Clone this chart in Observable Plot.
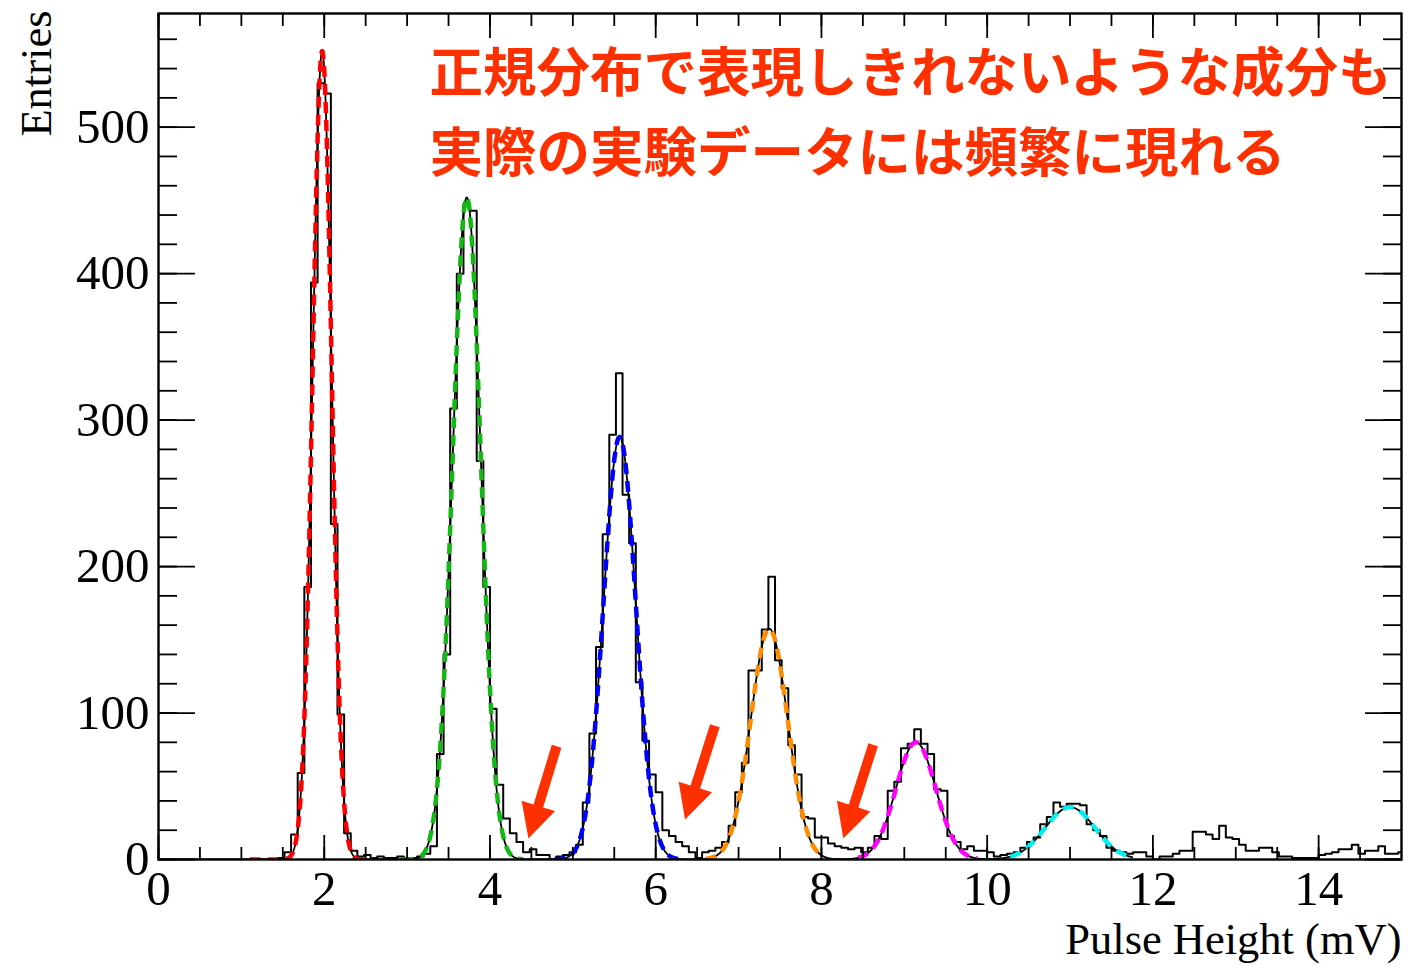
<!DOCTYPE html>
<html><head><meta charset="utf-8">
<script src="https://cdn.jsdelivr.net/npm/d3@7"></script>
<script src="https://cdn.jsdelivr.net/npm/@observablehq/plot@0.6"></script>
<style>html,body{margin:0;padding:0;background:#fff}#chart{width:1408px;height:966px}</style>
</head><body><div id="chart"></div>
<script>
// ---- histogram (bin width 0.08 mV, first bin starts at 0 mV) ----
const binWidth = 0.08;
const binStart = 0;
const counts = [
  0,0,0,0,0,0,0,0,0,0, 0,0,0,0,0,0,0,0,1,5,
  17,59,186,394,530,523,229,99,18,6, 2,3,1,2,1,1,2,1,1,2,
  4,9,72,140,308,400,447,443,272,186, 103,51,28,18,12,5,7,3,3,0,
  2,3,5,10,39,86,145,222,290,332, 249,216,121,81,58,46,20,16,12,9,
  5,1,5,6,8,12,23,46,66,129, 129,157,193,136,117,78,58,29,28,15,
  15,11,9,8,7,8,5,8,16,14, 47,53,76,79,89,79,72,48,47,16,
  12,7,9,6,6,5,2,3,4,5, 8,12,15,24,29,39,36,38,38,37,
  24,20,16,8,6,5,4,5,5,2, 0,2,2,4,6,6,19,19,17,14,
  23,15,14,10,6,6,8,8,5,2, 2,1,1,1,1,3,4,5,7,7,
  10,4,6,6,9,4,4,5
];

// ---- Gaussian fit components ----
const fitColors = ["#ff0000", "#14b814", "#0000ff", "#ff8c00", "#ff00ff", "#00eeee"];
const fitAmps   = [552, 452, 288.5, 157.5, 80, 35.7];
const fitMeans  = [1.975, 3.72, 5.565, 7.37, 9.14, 11.0];
const fitSigmas = [0.115, 0.17, 0.195, 0.223, 0.24, 0.30];
const fitLo     = [1.1, 2.95, 4.78, 6.6, 8.44, 10.28];
const fitHi     = [2.58, 4.4, 6.3, 8.0, 9.88, 11.72];
const totalRange = [1.1, 11.75];

// ---- axes ----
const xDomain = [0, 15];
const yDomain = [0, 577.6];
const xMajorTicks = [0, 2, 4, 6, 8, 10, 12, 14];
const xMinorTicks = [0,0.5,1,1.5,2,2.5,3,3.5,4,4.5,5,5.5,6,6.5,7,7.5,8,8.5,9,9.5,10,10.5,11,11.5,12,12.5,13,13.5,14,14.5];
const yMajorTicks = [0, 100, 200, 300, 400, 500];
const yMinorTicks = [0,20,40,60,80,100,120,140,160,180,200,220,240,260,280,300,320,340,360,380,400,420,440,460,480,500,520,540,560];
const xTitle = "Pulse Height (mV)";
const yTitle = "Entries";

// ---- annotation ----
const noteLines = ["正規分布で表現しきれないような成分も", "実際の実験データには頻繁に現れる"];
const noteX = [3.27, 3.27];
const noteY = [536, 481];
const noteColor = "#ff3000";
const arrowTailX = [4.81, 6.72, 8.63];
const arrowTailY = [77, 91, 78];
const arrowTipX  = [4.47, 6.36, 8.27];
const arrowTipY  = [14, 27, 14];

// ---- build tables ----
const steps = counts.map((c, i) => ({x: binStart + i * binWidth, y: c}));
steps.push({x: binStart + counts.length * binWidth, y: counts[counts.length - 1]});

const gauss = (i, x) => fitAmps[i] * Math.exp(-0.5 * ((x - fitMeans[i]) / fitSigmas[i]) ** 2);
const fitCurves = fitAmps.map((_, i) => {
  const xs = d3.range(fitLo[i], fitHi[i], 0.004).concat([fitHi[i]]);
  return xs.map(x => ({x, y: gauss(i, x)}));
});
const totalCurve = d3.range(totalRange[0], totalRange[1], 0.004).concat([totalRange[1]])
  .map(x => ({x, y: fitAmps.reduce((s, _, i) => s + gauss(i, x), 0)}));

const serif = "'Liberation Serif', 'Times New Roman', serif";
const noTxt = () => "";

const chart = Plot.plot({
  width: 1408, height: 966,
  marginLeft: 158, marginRight: 7, marginTop: 13, marginBottom: 107,
  style: {fontFamily: serif, background: "white", color: "black", overflow: "visible"},
  x: {domain: xDomain},
  y: {domain: yDomain},
  marks: [
    Plot.line(steps, {x: "x", y: "y", curve: "step-after", stroke: "black", strokeWidth: 2, clip: true}),
    Plot.line(totalCurve, {x: "x", y: "y", stroke: "black", strokeWidth: 1.8, clip: true}),
    ...fitCurves.map((c, i) => Plot.line(c, {x: "x", y: "y", stroke: fitColors[i], strokeWidth: 4.5,
      strokeDasharray: "11,7", strokeLinecap: "butt", clip: true})),
    // ticks (inward, ROOT style)
    Plot.axisX({anchor: "bottom", ticks: xMinorTicks, tickSize: -12, tickFormat: noTxt, label: null, strokeWidth: 1.8}),
    Plot.axisX({anchor: "bottom", ticks: xMajorTicks, tickSize: -24, tickFormat: noTxt, label: null, strokeWidth: 1.8}),
    Plot.axisX({anchor: "top", ticks: xMinorTicks, tickSize: -12, tickFormat: noTxt, label: null, strokeWidth: 1.8}),
    Plot.axisX({anchor: "top", ticks: xMajorTicks, tickSize: -24, tickFormat: noTxt, label: null, strokeWidth: 1.8}),
    Plot.axisY({anchor: "left", ticks: yMinorTicks, tickSize: -19, tickFormat: noTxt, label: null, strokeWidth: 1.8}),
    Plot.axisY({anchor: "left", ticks: yMajorTicks, tickSize: -37, tickFormat: noTxt, label: null, strokeWidth: 1.8}),
    Plot.axisY({anchor: "right", ticks: yMinorTicks, tickSize: -19, tickFormat: noTxt, label: null, strokeWidth: 1.8}),
    Plot.axisY({anchor: "right", ticks: yMajorTicks, tickSize: -37, tickFormat: noTxt, label: null, strokeWidth: 1.8}),
    // tick labels
    Plot.axisX({anchor: "bottom", ticks: xMajorTicks, tickSize: 0, tickPadding: 11, fontSize: 49, label: null, tickFormat: d => String(d)}),
    Plot.axisY({anchor: "left", ticks: yMajorTicks, tickSize: 0, tickPadding: 9, fontSize: 49, label: null, tickFormat: d => String(d)}),
    // titles
    Plot.text([xTitle], {text: d => d, frameAnchor: "bottom-right", textAnchor: "end", lineAnchor: "bottom", dy: 94, fontSize: 44.5, fill: "black"}),
    Plot.text([yTitle], {text: d => d, frameAnchor: "top-left", textAnchor: "end", lineAnchor: "bottom", rotate: -90, dx: -108, dy: -3, fontSize: 44.5, fill: "black"}),
    // annotation text
    Plot.text(noteLines, {x: (d, i) => noteX[i], y: (d, i) => noteY[i], text: d => d, textAnchor: "start",
      fontSize: 53.5, fontWeight: "bold", fontFamily: "'Noto Sans CJK JP', 'Noto Sans', sans-serif", fill: noteColor}),
    Plot.frame({stroke: "black", strokeWidth: 2.4})
  ]
});
document.getElementById("chart").appendChild(chart);

// arrows drawn in data coordinates through Plot's own scales
const sx = chart.scale("x"), sy = chart.scale("y");
const svg = d3.select(chart.tagName.toLowerCase() === "svg" ? chart : chart.querySelector("svg"));
const g = svg.append("g").attr("fill", noteColor);
arrowTailX.forEach((_, i) => {
  const x0 = sx.apply(arrowTailX[i]), y0 = sy.apply(arrowTailY[i]);
  const x1 = sx.apply(arrowTipX[i]), y1 = sy.apply(arrowTipY[i]);
  const L = Math.hypot(x1 - x0, y1 - y0), ux = (x1 - x0) / L, uy = (y1 - y0) / L;
  const px = -uy, py = ux;
  const headLen = 34, headHalf = 17.5, shaftHalf = 5;
  const bx = x1 - ux * headLen, by = y1 - uy * headLen;
  const pts = [
    [x0 + px * shaftHalf, y0 + py * shaftHalf],
    [bx + px * shaftHalf, by + py * shaftHalf],
    [bx + px * headHalf, by + py * headHalf],
    [x1, y1],
    [bx - px * headHalf, by - py * headHalf],
    [bx - px * shaftHalf, by - py * shaftHalf],
    [x0 - px * shaftHalf, y0 - py * shaftHalf]
  ];
  g.append("path").attr("d", "M" + pts.map(p => p.join(",")).join("L") + "Z");
});
</script>
</body></html>
